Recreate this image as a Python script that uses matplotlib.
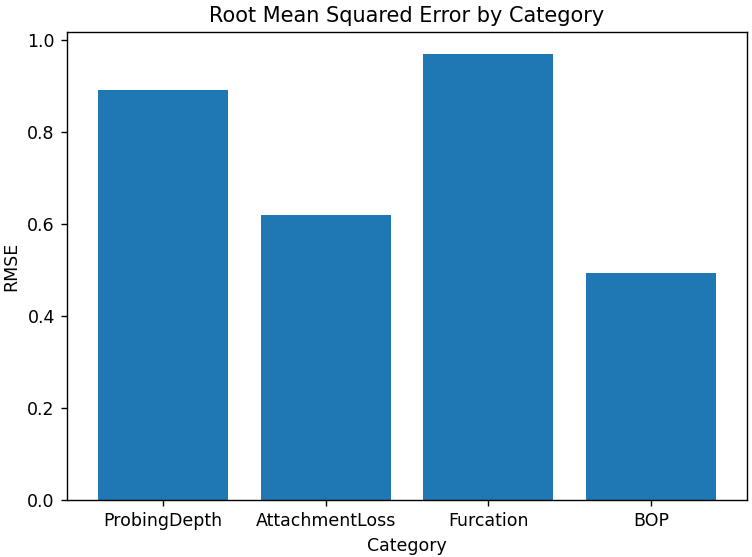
import matplotlib
matplotlib.use("Agg")
import matplotlib.pyplot as plt

categories = ["ProbingDepth", "AttachmentLoss", "Furcation", "BOP"]
rmse = [0.890, 0.619, 0.968, 0.494]

W, H, dpi = 752, 557, 125
fig = plt.figure(figsize=(W / dpi, H / dpi), dpi=dpi)
ax = fig.add_axes([67 / W, (H - 500) / H, (747 - 67) / W, (500 - 32) / H])

ax.bar(categories, rmse, color="#1f77b4")
ax.set_title("Root Mean Squared Error by Category")
ax.set_xlabel("Category")
ax.set_ylabel("RMSE")

fig.savefig("out.png", dpi=dpi)
